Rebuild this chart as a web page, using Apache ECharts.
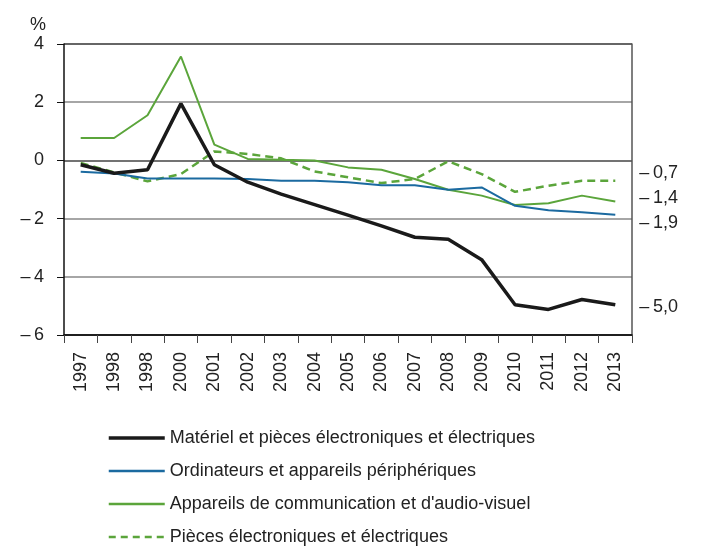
<!DOCTYPE html>
<html>
<head>
<meta charset="utf-8">
<script src="https://cdn.jsdelivr.net/npm/echarts@6/dist/echarts.min.js"></script>
<style>
  html, body { margin: 0; padding: 0; background: #fff; }
  #main { width: 701px; height: 550px; }
</style>
</head>
<body>
<div id="main"></div>
<script>
// années (le « 1998 » doublé est repris tel quel du graphique)
var years = ['1997', '1998', '1998 ', '2000', '2001', '2002', '2003', '2004', '2005',
    '2006', '2007', '2008', '2009', '2010', '2011', '2012', '2013'];

var materiel = [-0.15, -0.44, -0.32, 1.95, -0.15, -0.75, -1.16, -1.52, -1.88,
    -2.25, -2.64, -2.71, -3.41, -4.96, -5.12, -4.78, -4.96];
var ordinateurs = [-0.39, -0.45, -0.62, -0.62, -0.62, -0.64, -0.7, -0.7, -0.75,
    -0.85, -0.85, -1.01, -0.93, -1.56, -1.71, -1.78, -1.87];
var communication = [0.77, 0.77, 1.55, 3.57, 0.54, 0.05, 0.02, 0, -0.24,
    -0.32, -0.64, -1.01, -1.21, -1.53, -1.47, -1.21, -1.41];
var pieces = [-0.09, -0.41, -0.72, -0.47, 0.31, 0.22, 0.07, -0.38, -0.58,
    -0.78, -0.64, -0.03, -0.47, -1.08, -0.87, -0.7, -0.7];

var names = [
    'Matériel et pièces électroniques et électriques',
    'Ordinateurs et appareils périphériques',
    'Appareils de communication et d\'audio-visuel',
    'Pièces électroniques et électriques'
];
var endTexts = ['\u2013\u20095,0', '\u2013\u20091,9', '\u2013\u20091,4', '\u2013\u20090,7'];

var font = 'Liberation Sans, Arial, sans-serif';
var black = '#1a1a1a', blue = '#1b6aa0', green = '#5ba53b';

function endLabel(i, dy) {
    return {
        show: true,
        formatter: endTexts[i],
        distance: 24,
        offset: [0, dy],
        color: '#222',
        fontSize: 18,
        fontFamily: font
    };
}

var myChart = echarts.init(document.getElementById('main'));

var option = {
    animation: false,
    title: {
        text: '%',
        left: 25,
        top: 11,
        textStyle: { fontSize: 18, fontWeight: 'normal', color: '#222', fontFamily: font }
    },
    grid: { left: 64, right: 69, top: 44, bottom: 215 },
    legend: {
        orient: 'vertical',
        left: 102,
        top: 424,
        height: 140,
        itemWidth: 56,
        itemHeight: 14,
        itemGap: 15,
        itemStyle: { opacity: 0 },
        textStyle: { fontSize: 18, color: '#222', fontFamily: font },
        data: [
            { name: names[0], lineStyle: { width: 3.5 } },
            { name: names[1], lineStyle: { width: 2.5 } },
            { name: names[2], lineStyle: { width: 2.5 } },
            { name: names[3], lineStyle: { width: 2.5, type: [7, 5] } }
        ]
    },
    xAxis: {
        type: 'category',
        data: years,
        boundaryGap: true,
        axisLine: { onZero: false, lineStyle: { color: '#111', width: 1.5 } },
        axisTick: { show: true, length: 8, lineStyle: { color: '#444' } },
        axisLabel: {
            rotate: 90,
            margin: 17,
            fontSize: 18,
            color: '#222',
            fontFamily: font,
            interval: 0,
            formatter: function (v) { return v.trim(); }
        }
    },
    yAxis: [{
        type: 'value',
        min: -6,
        max: 4,
        interval: 2,
        axisLine: { show: true, lineStyle: { color: '#111', width: 1.5 } },
        axisTick: { show: true, length: 7, lineStyle: { color: '#111' } },
        axisLabel: {
            margin: 20,
            fontSize: 18,
            color: '#222',
            fontFamily: font,
            formatter: function (v) { return v < 0 ? '\u2013\u2009' + (-v) : String(v); }
        },
        splitLine: {
            lineStyle: { color: ['#111', '#888', '#888', '#444', '#888', '#333'], width: 1.5 }
        }
    }, {
        type: 'value',
        min: -6,
        max: 4,
        interval: 2,
        position: 'right',
        axisLine: { show: true, lineStyle: { color: '#555', width: 1.5 } },
        axisTick: { show: false },
        axisLabel: { show: false },
        splitLine: { show: false }
    }],
    series: [{
        name: names[0],
        type: 'line',
        data: materiel,
        symbol: 'none',
        z: 5,
        lineStyle: { color: black, width: 3.5 },
        itemStyle: { color: black },
        endLabel: endLabel(0, 2)
    }, {
        name: names[1],
        type: 'line',
        data: ordinateurs,
        symbol: 'none',
        z: 4,
        lineStyle: { color: blue, width: 2 },
        itemStyle: { color: blue },
        endLabel: endLabel(1, 8)
    }, {
        name: names[2],
        type: 'line',
        data: communication,
        symbol: 'none',
        z: 3,
        lineStyle: { color: green, width: 2 },
        itemStyle: { color: green },
        endLabel: endLabel(2, -3)
    }, {
        name: names[3],
        type: 'line',
        data: pieces,
        symbol: 'none',
        z: 3,
        lineStyle: { color: green, width: 2.5, type: [8, 5] },
        itemStyle: { color: green },
        endLabel: endLabel(3, -8)
    }]
};

myChart.setOption(option);
</script>
</body>
</html>
